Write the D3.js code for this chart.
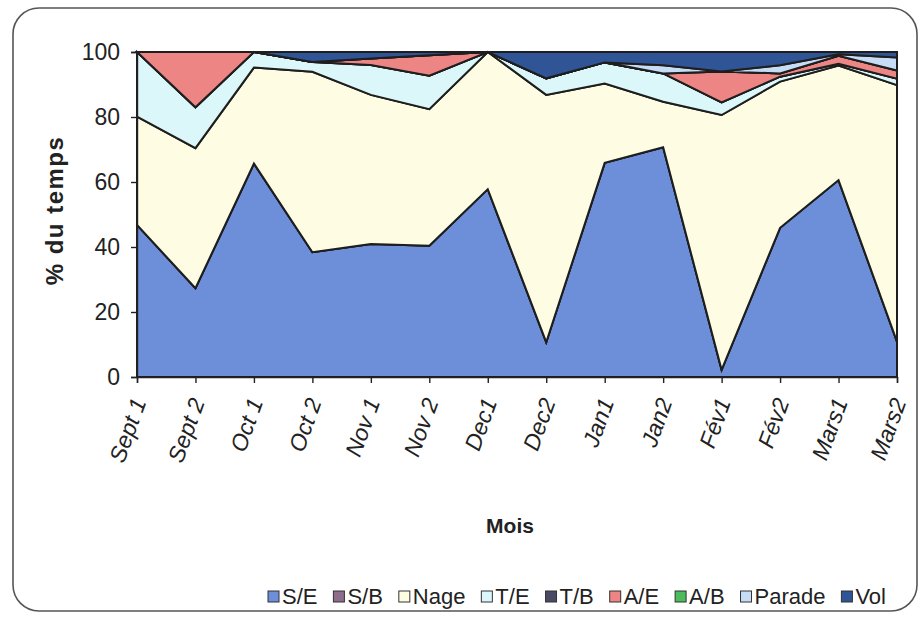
<!DOCTYPE html>
<html>
<head>
<meta charset="utf-8">
<script src="https://cdn.jsdelivr.net/npm/d3@7"></script>
<style>
  html, body { margin: 0; padding: 0; background: #ffffff; }
  svg { display: block; font-family: "Liberation Sans", Arial, sans-serif; }
</style>
</head>
<body>
<svg id="chart" width="921" height="623"></svg>
<script>
// ---- data ----
const categories = ["Sept 1","Sept 2","Oct 1","Oct 2","Nov 1","Nov 2","Dec1","Dec2","Jan1","Jan2","Fév1","Fév2","Mars1","Mars2"];
const seriesNames = ["S/E","S/B","Nage","T/E","T/B","A/E","A/B","Parade","Vol"];
const sE     = [46.8, 27.3, 65.7, 38.4, 40.9, 40.4, 57.8, 10.7, 65.9, 70.7, 2.2, 45.9, 60.6, 10.9];
const sB     = [0,0,0,0,0,0,0,0,0,0,0,0,0,0];
const nage   = [33.3, 43.1, 29.5, 55.5, 45.9, 42.0, 42.2, 76.1, 24.4, 14.0, 78.4, 45.0, 35.2, 78.9];
const tE     = [19.9, 12.6, 4.8, 3.0, 9.2, 10.3, 0, 5.1, 6.5, 8.7, 3.9, 1.5, 0.6, 2.0];
const tB     = [0,0,0,0,0,0,0,0,0,0,0,0,0,0];
const aE     = [0, 17.0, 0, 0, 2.0, 6.3, 0, 0, 0, 0, 9.5, 1.0, 2.4, 2.5];
const aB     = [0,0,0,0,0,0,0,0,0,0,0,0,0,0];
const parade = [0,0,0,0,0,0,0,0,0,2.5,0,2.5,0.5,4.0];
const vol    = [0, 0, 0, 3.1, 2.0, 1.0, 0, 8.1, 3.2, 4.1, 6.0, 4.1, 0.7, 1.7];
const yTicks = [0,20,40,60,80,100];
const colors = ["#6d8fd9","#8e6c8a","#fefde3","#dcf7fa","#4b4a64","#ee8585","#4cbb5c","#c6ddf5","#2f5597"];

const seriesValues = [sE, sB, nage, tE, tB, aE, aB, parade, vol];
const table = categories.map((c, i) => {
  const row = { cat: c };
  seriesNames.forEach((s, k) => row[s] = seriesValues[k][i]);
  return row;
});

// ---- layout ----
const svg = d3.select("#chart");
const pLeft = 137, pRight = 897, pTop = 52, pBottom = 377;

// outer frame
svg.append("rect").attr("x", 13).attr("y", 8).attr("width", 904).attr("height", 603)
  .attr("rx", 26).attr("ry", 26).attr("fill", "#ffffff").attr("stroke", "#555").attr("stroke-width", 1.6);

const x = d3.scalePoint().domain(categories).range([pLeft, pRight]);
const y = d3.scaleLinear().domain([0, 100]).range([pBottom, pTop]);

const stack = d3.stack().keys(seriesNames);
const layers = stack(table);

const area = d3.area()
  .x(d => x(d.data.cat))
  .y0(d => y(d[0]))
  .y1(d => y(d[1]));

svg.append("g").selectAll("path").data(layers).join("path")
  .attr("d", area)
  .attr("fill", (d, i) => colors[i])
  .attr("stroke", "#1e1e1e")
  .attr("stroke-width", 2)
  .attr("stroke-linejoin", "miter");

// y axis
const yAxis = svg.append("g").attr("transform", `translate(${pLeft},0)`)
  .call(d3.axisLeft(y).tickValues(yTicks).tickSize(6).tickPadding(11));
yAxis.select(".domain").attr("stroke", "#222").attr("stroke-width", 1.4);
yAxis.selectAll(".tick line").attr("stroke", "#222").attr("stroke-width", 1.4);
yAxis.selectAll("text").attr("font-size", 23).attr("fill", "#222")
  .attr("font-family", "Liberation Sans, Arial, sans-serif");

// x axis
const xAxis = svg.append("g").attr("transform", `translate(0,${pBottom})`)
  .call(d3.axisBottom(x).tickSize(6).tickFormat(""));
xAxis.select(".domain").attr("stroke", "#222").attr("stroke-width", 1.4);
xAxis.selectAll(".tick line").attr("stroke", "#222").attr("stroke-width", 1.4);

svg.append("g").selectAll("text").data(categories).join("text")
  .attr("transform", d => `translate(${x(d) + 2},${pBottom + 22}) rotate(-70)`)
  .attr("text-anchor", "end")
  .attr("dy", "0.35em")
  .attr("font-size", 23)
  .attr("font-style", "italic")
  .attr("fill", "#222")
  .text(d => d);

// axis titles
svg.append("text")
  .attr("transform", `translate(63,${(pTop + pBottom) / 2 - 4}) rotate(-90)`)
  .attr("text-anchor", "middle")
  .attr("font-size", 24).attr("font-weight", "bold").attr("letter-spacing", 1.5)
  .attr("fill", "#222")
  .text("% du temps");

svg.append("text")
  .attr("x", 510).attr("y", 533)
  .attr("text-anchor", "middle")
  .attr("font-size", 21).attr("font-weight", "bold")
  .attr("fill", "#222")
  .text("Mois");

// legend
const leg = svg.append("g");
const legY = 596;
const items = leg.selectAll("g").data(seriesNames).join("g");
items.append("rect").attr("width", 11).attr("height", 11).attr("y", legY - 5)
  .attr("fill", (d, i) => colors[i]).attr("stroke", "#333").attr("stroke-width", 1);
items.append("text").attr("x", 14).attr("y", legY).attr("dy", "0.35em")
  .attr("font-size", 22).attr("fill", "#222").text(d => d);
const widths = [];
items.each(function() { widths.push(14 + d3.select(this).select("text").node().getComputedTextLength()); });
const legStart = 268, legEnd = 886;
const totalW = d3.sum(widths);
const gap = (legEnd - legStart - totalW) / (seriesNames.length - 1);
let cx = legStart;
items.attr("transform", (d, i) => { const t = `translate(${cx},0)`; cx += widths[i] + gap; return t; });
</script>
</body>
</html>
